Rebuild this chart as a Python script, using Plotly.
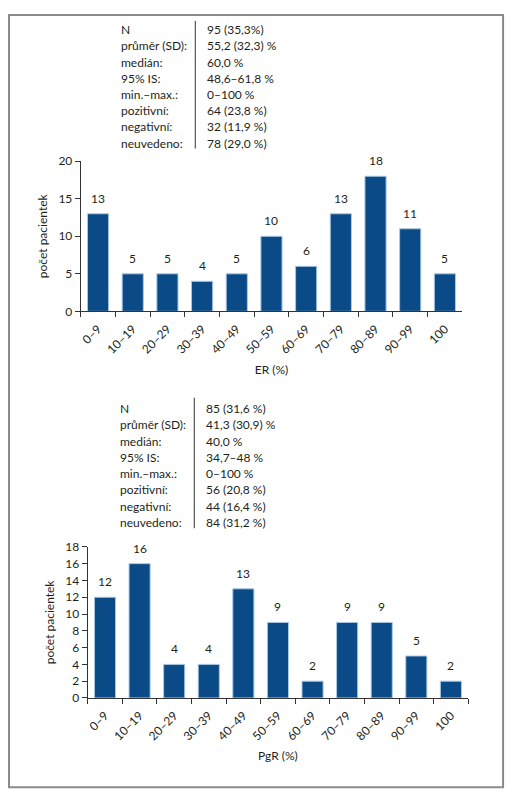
import plotly.graph_objects as go

W, H = 513, 800
OFF = 8  # default body margin of the page

categories = ["0–9", "10–19", "20–29", "30–39", "40–49", "50–59",
              "60–69", "70–79", "80–89", "90–99", "100"]
er_counts = [13, 5, 5, 4, 5, 10, 6, 13, 18, 11, 5]
pgr_counts = [12, 16, 4, 4, 13, 9, 2, 9, 9, 5, 2]

stat_labels = ["N", "průměr (SD):", "medián:", "95% IS:", "min.–max.:",
               "pozitivní:", "negativní:", "neuvedeno:"]
er_stats = ["95 (35,3%)", "55,2 (32,3) %", "60,0 %", "48,6–61,8 %", "0–100 %",
            "64 (23,8 %)", "32 (11,9 %)", "78 (29,0 %)"]
pgr_stats = ["85 (31,6 %)", "41,3 (30,9) %", "40,0 %", "34,7–48 %", "0–100 %",
             "56 (20,8 %)", "44 (16,4 %)", "84 (31,2 %)"]

bar_col = "#0a4a86"
edge_col = "#a9c8e4"
txt_col = "#231f20"
axis_col = "#333333"
FONT = "Lato"


def px_x(x):
    return (x - OFF) / W


def px_y(y):
    return 1 - (y - OFF) / H


fig = go.Figure()
fig.add_trace(go.Bar(x=categories, y=er_counts, marker=dict(color=bar_col, line=dict(color=edge_col, width=1)),
                     xaxis="x", yaxis="y", showlegend=False, hoverinfo="x+y"))
fig.add_trace(go.Bar(x=categories, y=pgr_counts, marker=dict(color=bar_col, line=dict(color=edge_col, width=1)),
                     xaxis="x2", yaxis="y2", showlegend=False, hoverinfo="x+y"))

ann = []
# value labels above bars (x by category index, "100" would be read as a number)
for i, v in enumerate(er_counts):
    ann.append(dict(x=i, y=v, xref="x", yref="y", text=str(v), showarrow=False,
                    yanchor="bottom", yshift=6, font=dict(size=12, color=txt_col)))
for i, v in enumerate(pgr_counts):
    ann.append(dict(x=i, y=v, xref="x2", yref="y2", text=str(v), showarrow=False,
                    yanchor="bottom", yshift=6, font=dict(size=12, color=txt_col)))

# stats tables
for i, (lab, a, b) in enumerate(zip(stat_labels, er_stats, pgr_stats)):
    y1 = 22 + 16.5 * i
    y2 = 408 + 16.6 * i
    for txt, xx, yy in [(lab, 117, y1), (a, 204, y1), (lab, 116, y2), (b, 203, y2)]:
        ann.append(dict(x=px_x(xx), y=px_y(yy), xref="paper", yref="paper", text=txt,
                        showarrow=False, xanchor="left", yanchor="middle",
                        font=dict(size=12, color=txt_col)))

shapes = [
    dict(type="rect", xref="paper", yref="paper", x0=px_x(7), x1=px_x(503), y0=px_y(794), y1=px_y(7),
         line=dict(color="#8a8a8a", width=2)),
    dict(type="line", xref="paper", yref="paper", x0=px_x(194), x1=px_x(194), y0=px_y(13), y1=px_y(143),
         line=dict(color=axis_col, width=1)),
    dict(type="line", xref="paper", yref="paper", x0=px_x(193), x1=px_x(193), y0=px_y(397), y1=px_y(530),
         line=dict(color=axis_col, width=1)),
]

xax = dict(type="category", range=[-0.5, 10.5], showline=True, linecolor=axis_col, linewidth=1,
           ticks="outside", tickson="boundaries", ticklen=5, tickcolor=axis_col, tickangle=-45,
           ticklabelstandoff=5,
           showgrid=False, zeroline=False, tickfont=dict(size=12, color=txt_col),
           title=dict(font=dict(size=12, color=txt_col), standoff=9))
yax = dict(showline=True, linecolor=axis_col, linewidth=1, ticks="outside", ticklen=5,
           tickcolor=axis_col, showgrid=False, zeroline=False,
           tickfont=dict(size=12, color=txt_col),
           title=dict(text="počet pacientek", font=dict(size=12, color=txt_col), standoff=8))

fig.update_layout(
    width=W, height=H, margin=dict(l=0, r=0, t=0, b=0),
    paper_bgcolor="white", plot_bgcolor="white",
    font=dict(family=FONT, size=12, color=txt_col),
    bargap=0.39,
    xaxis=dict(xax, domain=[px_x(79), px_x(462)], anchor="y", title_text="ER (%)"),
    yaxis=dict(yax, domain=[px_y(309), px_y(156)], anchor="x", range=[0, 20], dtick=5),
    xaxis2=dict(xax, domain=[px_x(86), px_x(468)], anchor="y2", title_text="PgR (%)"),
    yaxis2=dict(yax, domain=[px_y(703), px_y(549)], anchor="x2", range=[0, 18], dtick=2),
    annotations=ann, shapes=shapes,
)

fig.write_html("out.html")
